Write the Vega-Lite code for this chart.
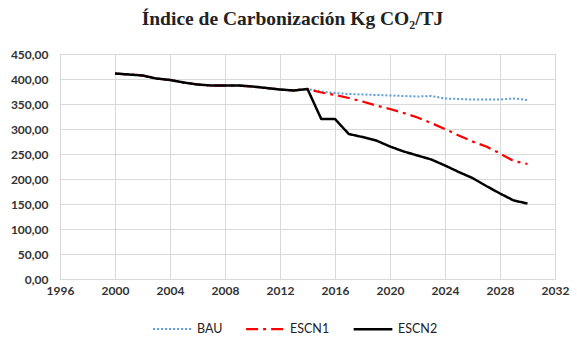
{
  "$schema": "https://vega.github.io/schema/vega-lite/v6.json",
  "width": 495,
  "height": 225,
  "autosize": {"type": "none"},
  "padding": {"left": 60, "top": 54, "right": 22, "bottom": 73},
  "background": "white",
  "title": {
    "text": "Índice de Carbonización Kg CO₂/TJ",
    "font": "Liberation Serif",
    "fontSize": 19.5,
    "fontWeight": "bold",
    "color": "#222222",
    "anchor": "middle",
    "dx": -15,
    "offset": 19
  },
  "data": {
    "values": [
      {"year": 2000, "series": "BAU", "value": 411}, {"year": 2001, "series": "BAU", "value": 409}, {"year": 2002, "series": "BAU", "value": 407}, {"year": 2003, "series": "BAU", "value": 401}, {"year": 2004, "series": "BAU", "value": 398}, {"year": 2005, "series": "BAU", "value": 393}, {"year": 2006, "series": "BAU", "value": 389}, {"year": 2007, "series": "BAU", "value": 387}, {"year": 2008, "series": "BAU", "value": 387}, {"year": 2009, "series": "BAU", "value": 387}, {"year": 2010, "series": "BAU", "value": 385}, {"year": 2011, "series": "BAU", "value": 382}, {"year": 2012, "series": "BAU", "value": 379}, {"year": 2013, "series": "BAU", "value": 377}, {"year": 2014, "series": "BAU", "value": 380},
      {"year": 2015, "series": "BAU", "value": 375}, {"year": 2016, "series": "BAU", "value": 372}, {"year": 2017, "series": "BAU", "value": 370}, {"year": 2018, "series": "BAU", "value": 369}, {"year": 2019, "series": "BAU", "value": 368}, {"year": 2020, "series": "BAU", "value": 367}, {"year": 2021, "series": "BAU", "value": 366}, {"year": 2022, "series": "BAU", "value": 365}, {"year": 2023, "series": "BAU", "value": 366}, {"year": 2024, "series": "BAU", "value": 361}, {"year": 2025, "series": "BAU", "value": 360}, {"year": 2026, "series": "BAU", "value": 359}, {"year": 2027, "series": "BAU", "value": 359}, {"year": 2028, "series": "BAU", "value": 359}, {"year": 2029, "series": "BAU", "value": 361}, {"year": 2030, "series": "BAU", "value": 358},
      {"year": 2000, "series": "ESCN1", "value": 411}, {"year": 2001, "series": "ESCN1", "value": 409}, {"year": 2002, "series": "ESCN1", "value": 407}, {"year": 2003, "series": "ESCN1", "value": 401}, {"year": 2004, "series": "ESCN1", "value": 398}, {"year": 2005, "series": "ESCN1", "value": 393}, {"year": 2006, "series": "ESCN1", "value": 389}, {"year": 2007, "series": "ESCN1", "value": 387}, {"year": 2008, "series": "ESCN1", "value": 387}, {"year": 2009, "series": "ESCN1", "value": 387}, {"year": 2010, "series": "ESCN1", "value": 385}, {"year": 2011, "series": "ESCN1", "value": 382}, {"year": 2012, "series": "ESCN1", "value": 379}, {"year": 2013, "series": "ESCN1", "value": 377}, {"year": 2014, "series": "ESCN1", "value": 380},
      {"year": 2015, "series": "ESCN1", "value": 373}, {"year": 2016, "series": "ESCN1", "value": 368}, {"year": 2017, "series": "ESCN1", "value": 362}, {"year": 2018, "series": "ESCN1", "value": 355}, {"year": 2019, "series": "ESCN1", "value": 347}, {"year": 2020, "series": "ESCN1", "value": 340}, {"year": 2021, "series": "ESCN1", "value": 332}, {"year": 2022, "series": "ESCN1", "value": 323}, {"year": 2023, "series": "ESCN1", "value": 312}, {"year": 2024, "series": "ESCN1", "value": 300}, {"year": 2025, "series": "ESCN1", "value": 287}, {"year": 2026, "series": "ESCN1", "value": 275}, {"year": 2027, "series": "ESCN1", "value": 265}, {"year": 2028, "series": "ESCN1", "value": 251}, {"year": 2029, "series": "ESCN1", "value": 236}, {"year": 2030, "series": "ESCN1", "value": 230},
      {"year": 2000, "series": "ESCN2", "value": 411}, {"year": 2001, "series": "ESCN2", "value": 409}, {"year": 2002, "series": "ESCN2", "value": 407}, {"year": 2003, "series": "ESCN2", "value": 401}, {"year": 2004, "series": "ESCN2", "value": 398}, {"year": 2005, "series": "ESCN2", "value": 393}, {"year": 2006, "series": "ESCN2", "value": 389}, {"year": 2007, "series": "ESCN2", "value": 387}, {"year": 2008, "series": "ESCN2", "value": 387}, {"year": 2009, "series": "ESCN2", "value": 387}, {"year": 2010, "series": "ESCN2", "value": 385}, {"year": 2011, "series": "ESCN2", "value": 382}, {"year": 2012, "series": "ESCN2", "value": 379}, {"year": 2013, "series": "ESCN2", "value": 377}, {"year": 2014, "series": "ESCN2", "value": 380},
      {"year": 2015, "series": "ESCN2", "value": 320}, {"year": 2016, "series": "ESCN2", "value": 320}, {"year": 2017, "series": "ESCN2", "value": 290}, {"year": 2018, "series": "ESCN2", "value": 284}, {"year": 2019, "series": "ESCN2", "value": 277}, {"year": 2020, "series": "ESCN2", "value": 265}, {"year": 2021, "series": "ESCN2", "value": 255}, {"year": 2022, "series": "ESCN2", "value": 247}, {"year": 2023, "series": "ESCN2", "value": 239}, {"year": 2024, "series": "ESCN2", "value": 227}, {"year": 2025, "series": "ESCN2", "value": 214}, {"year": 2026, "series": "ESCN2", "value": 202}, {"year": 2027, "series": "ESCN2", "value": 186}, {"year": 2028, "series": "ESCN2", "value": 171}, {"year": 2029, "series": "ESCN2", "value": 157}, {"year": 2030, "series": "ESCN2", "value": 151}
    ]
  },
  "mark": {"type": "line", "strokeCap": "butt", "strokeJoin": "round"},
  "encoding": {
    "x": {
      "field": "year",
      "type": "quantitative",
      "scale": {"domain": [1996, 2032], "nice": false, "zero": false},
      "axis": {
        "title": null,
        "values": [1996, 2000, 2004, 2008, 2012, 2016, 2020, 2024, 2028, 2032],
        "format": "d",
        "labelFont": "Lato",
        "labelFontSize": 12,
        "labelFontWeight": "bold",
        "labelColor": "#333333",
        "labelPadding": 6,
        "ticks": false,
        "domainColor": "#d9d9d9",
        "gridColor": "#d9d9d9",
        "gridWidth": 1,
        "labelFlush": false
      }
    },
    "y": {
      "field": "value",
      "type": "quantitative",
      "scale": {"domain": [0, 450], "nice": false},
      "axis": {
        "title": null,
        "values": [0, 50, 100, 150, 200, 250, 300, 350, 400, 450],
        "labelExpr": "replace(format(datum.value, '.2f'), '.', ',')",
        "labelFont": "Lato",
        "labelFontSize": 12,
        "labelFontWeight": "bold",
        "labelColor": "#333333",
        "labelPadding": 12,
        "ticks": false,
        "domainColor": "#d9d9d9",
        "gridColor": "#d9d9d9",
        "gridWidth": 1
      }
    },
    "color": {
      "field": "series",
      "type": "nominal",
      "scale": {"domain": ["BAU", "ESCN1", "ESCN2"], "range": ["#5B9BD5", "#FF0000", "#000000"]},
      "legend": {
        "title": null,
        "orient": "none",
        "direction": "horizontal",
        "legendX": 92,
        "legendY": 254,
        "symbolType": "stroke",
        "symbolSize": 1500,
        "symbolStrokeWidth": 2.5,
        "labelFont": "Lato",
        "labelFontSize": 12.5,
        "labelColor": "#222222",
        "columnPadding": 18,
        "labelOffset": 4
      }
    },
    "strokeDash": {
      "field": "series",
      "type": "nominal",
      "scale": {"domain": ["BAU", "ESCN1", "ESCN2"], "range": [[2, 2], [12, 5, 3, 5], [1, 0]]}
    },
    "strokeWidth": {
      "field": "series",
      "type": "nominal",
      "scale": {"domain": ["BAU", "ESCN1", "ESCN2"], "range": [2, 2.5, 2.5]},
      "legend": null
    },
    "order": {"field": "year", "type": "quantitative"}
  }
}
